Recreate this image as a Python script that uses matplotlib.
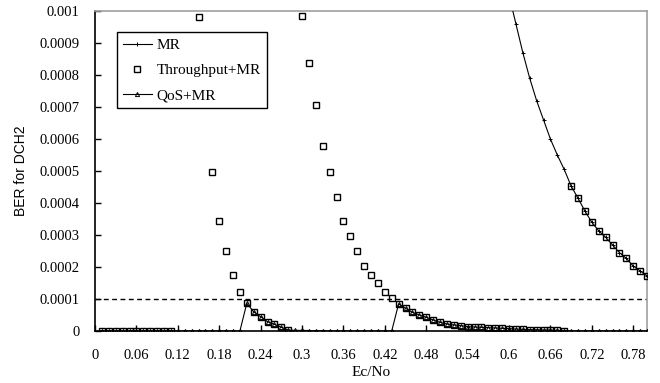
import numpy as np
import matplotlib
matplotlib.use("Agg")
import matplotlib.pyplot as plt

plt.rcParams['font.family'] = ['Liberation Serif', 'DejaVu Serif']

nan = np.nan

# Ec/No grid (x values)
ec_no = [0.01, 0.02, 0.03, 0.04, 0.05, 0.06, 0.07, 0.08, 0.09, 0.10,
         0.11, 0.12, 0.13, 0.14, 0.15, 0.16, 0.17, 0.18, 0.19, 0.20,
         0.21, 0.22, 0.23, 0.24, 0.25, 0.26, 0.27, 0.28, 0.29, 0.30,
         0.31, 0.32, 0.33, 0.34, 0.35, 0.36, 0.37, 0.38, 0.39, 0.40,
         0.41, 0.42, 0.43, 0.44, 0.45, 0.46, 0.47, 0.48, 0.49, 0.50,
         0.51, 0.52, 0.53, 0.54, 0.55, 0.56, 0.57, 0.58, 0.59, 0.60,
         0.61, 0.62, 0.63, 0.64, 0.65, 0.66, 0.67, 0.68, 0.69, 0.70,
         0.71, 0.72, 0.73, 0.74, 0.75, 0.76, 0.77, 0.78, 0.79, 0.80]

# MR (only the visible part, from 0.60 on)
mr_x = [0.60, 0.61, 0.62, 0.63, 0.64, 0.65, 0.66, 0.67, 0.68, 0.69, 0.70,
        0.71, 0.72, 0.73, 0.74, 0.75, 0.76, 0.77, 0.78, 0.79, 0.80]
mr_ber = [0.00105, 0.00096, 0.00087, 0.00079, 0.00072, 0.00066, 0.00060,
          0.00055, 0.000505, 0.000453, 0.000415, 0.000375, 0.00034,
          0.000313, 0.000293, 0.000269, 0.000245, 0.000227, 0.000203,
          0.000188, 0.000172]

# Throughput+MR (nan = above the plotted range)
thr_ber = [0, 0, 0, 0, 0, 0, 0, 0, 0, 0,
           0, nan, nan, nan, 0.00098, nan, 0.000496, 0.000344, 0.000251, 0.000176,
           0.000122, 0.0000865, 0.00006, 0.0000448, 0.000029, 0.000021, 0.0000115, 0.000003, nan, 0.000984,
           0.000837, 0.000706, 0.000578, 0.000498, 0.00042, 0.000344, 0.000297, 0.00025, 0.000203, 0.000175,
           0.000149, 0.000123, 0.000102, 0.0000844, 0.000071, 0.0000583, 0.00005, 0.0000427, 0.0000344, 0.0000271,
           0.0000219, 0.0000188, 0.0000167, 0.0000135, 0.0000125, 0.0000115, 0.0000104, 0.0000094, 0.0000083, 0.0000073,
           0.000006, 0.000005, 0.000004, 0.000004, 0.000003, 0.000003, 0.000002, 0.000001, 0.000453, 0.000415,
           0.000375, 0.00034, 0.000313, 0.000293, 0.000269, 0.000245, 0.000227, 0.000203, 0.000188, 0.000172]

# QoS+MR
qos_ber = [0, 0, 0, 0, 0, 0, 0, 0, 0, 0,
           0, 0, 0, 0, 0, 0, 0, 0, 0, 0,
           0, 0.0000865, 0.00006, 0.0000448, 0.000029, 0.000021, 0.0000115, 0.000003, 0.000002, 0.000002,
           0.0000015, 0.000001, 0.000001, 0, 0, 0, 0, 0, 0, 0,
           0, 0, 0, 0.0000844, 0.000071, 0.0000583, 0.00005, 0.0000427, 0.0000344, 0.0000271,
           0.0000219, 0.0000188, 0.0000167, 0.0000135, 0.0000125, 0.0000115, 0.0000104, 0.0000094, 0.0000083, 0.0000073,
           0.000006, 0.000005, 0.000004, 0.000004, 0.000003, 0.000003, 0.000002, 0.000001, 0, 0,
           0, 0, 0, 0, 0, 0, 0, 0, 0, 0]

threshold = 0.0001

x_ticks = [0, 0.06, 0.12, 0.18, 0.24, 0.3, 0.36, 0.42, 0.48, 0.54, 0.6, 0.66, 0.72, 0.78]
x_tick_labels = ['0', '0.06', '0.12', '0.18', '0.24', '0.3', '0.36', '0.42', '0.48',
                 '0.54', '0.6', '0.66', '0.72', '0.78']
y_ticks = [0, 0.0001, 0.0002, 0.0003, 0.0004, 0.0005, 0.0006, 0.0007, 0.0008, 0.0009, 0.001]
y_tick_labels = ['0', '0.0001', '0.0002', '0.0003', '0.0004', '0.0005', '0.0006',
                 '0.0007', '0.0008', '0.0009', '0.001']

fig = plt.figure(figsize=(6.6, 3.83), dpi=100)
ax = fig.add_axes([95 / 660, 1 - 331 / 383, (647 - 95) / 660, (331 - 11) / 383])

ax.axhline(threshold, color='black', lw=1, ls=(0, (3.5, 2.5)), zorder=1)

ax.plot(mr_x, mr_ber, color='black', lw=0.8, marker='+', ms=3, mew=0.7,
        label='MR', zorder=3)
ax.plot(ec_no, thr_ber, ls='none', marker='s', ms=5, mfc='none', mec='black',
        mew=1.0, label='Throughput+MR', zorder=4)
ax.plot(ec_no, qos_ber, color='black', lw=0.8, marker='^', ms=3, mfc='none',
        mec='black', mew=0.7, label='QoS+MR', zorder=5)

ax.set_xlim(0, 0.8)
ax.set_ylim(0, 0.001)
ax.set_xticks(x_ticks)
ax.set_xticklabels(x_tick_labels)
ax.set_yticks(y_ticks)
ax.set_yticklabels(y_tick_labels)
ax.tick_params(axis='x', direction='in', length=4, width=1, pad=13, labelsize=10.5)
ax.tick_params(axis='y', direction='in', length=4, width=1, pad=11, labelsize=10.5)

for side in ('top', 'right'):
    ax.spines[side].set_color('#a0a0a0')
    ax.spines[side].set_linewidth(1.2)
for side in ('left', 'bottom'):
    ax.spines[side].set_color('black')
    ax.spines[side].set_linewidth(1.2)

ax.set_xlabel('Ec/No', fontsize=11, labelpad=3)
ax.set_ylabel('BER for DCH2', fontsize=10, family=['Liberation Sans', 'DejaVu Sans'],
              labelpad=8)

leg = ax.legend(loc='upper left', bbox_to_anchor=(0.039, 0.934), borderaxespad=0,
                fontsize=11, frameon=True, fancybox=False, framealpha=1,
                edgecolor='black', borderpad=0.4, handlelength=1.9,
                handletextpad=0.3, labelspacing=0.75, numpoints=1)
leg.get_frame().set_linewidth(1.0)

fig.savefig('out.png', dpi=100)
